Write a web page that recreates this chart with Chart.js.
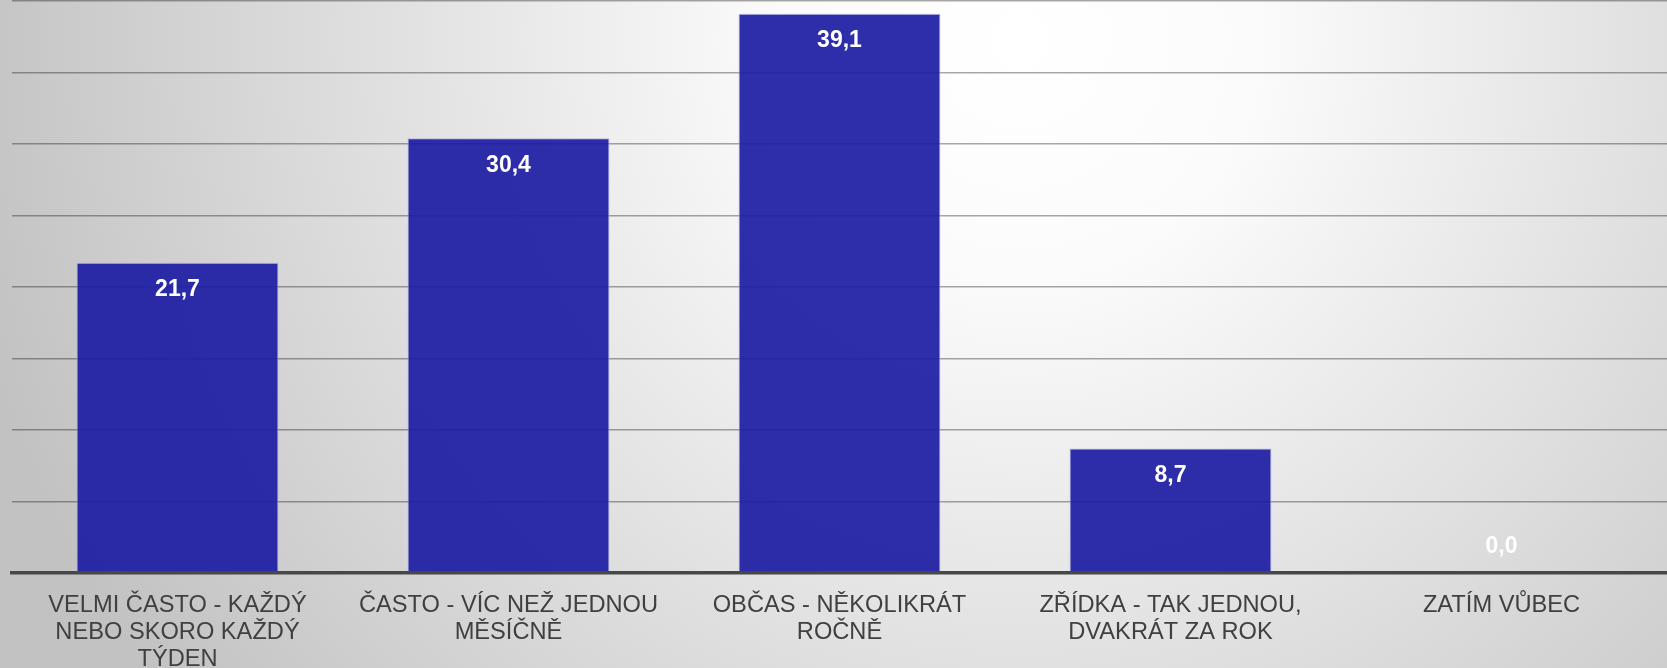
<!DOCTYPE html>
<html>
<head>
<meta charset="utf-8">
<script src="https://cdn.jsdelivr.net/npm/chart.js@4/dist/chart.umd.min.js"></script>
<style>
  html, body { margin: 0; padding: 0; width: 1667px; height: 668px; overflow: hidden; }
  #wrap { width: 1667px; height: 668px; }
</style>
</head>
<body>
<div id="wrap"><canvas id="c" width="1667" height="668"></canvas></div>
<script>
const categories = [
  ["VELMI ČASTO - KAŽDÝ", "NEBO SKORO KAŽDÝ", "TÝDEN"],
  ["ČASTO - VÍC NEŽ JEDNOU", "MĚSÍČNĚ"],
  ["OBČAS - NĚKOLIKRÁT", "ROČNĚ"],
  ["ZŘÍDKA - TAK JEDNOU,", "DVAKRÁT ZA ROK"],
  ["ZATÍM VŮBEC"]
];
const values = [21.7, 30.4, 39.1, 8.7, 0.0];
const yMin = 0, yMax = 40, yStep = 5;

const bgPlugin = {
  id: 'bg',
  beforeDraw(chart) {
    const ctx = chart.ctx;
    const w = chart.width, h = chart.height;
    ctx.save();
    const g = ctx.createRadialGradient(1020, 40, 0, 1020, 40, 1080);
    g.addColorStop(0, '#ffffff');
    g.addColorStop(0.22, '#fbfbfb');
    g.addColorStop(1, '#c2c2c2');
    ctx.fillStyle = g;
    ctx.fillRect(0, 0, w, h);
    ctx.restore();
  }
};

const labelPlugin = {
  id: 'vals',
  afterDraw(chart) {
    const ctx = chart.ctx;
    const meta = chart.getDatasetMeta(0);
    ctx.save();
    ctx.fillStyle = '#ffffff';
    ctx.font = 'bold 23px "Liberation Sans", Arial, sans-serif';
    ctx.textAlign = 'center';
    ctx.textBaseline = 'middle';
    meta.data.forEach((el, i) => {
      const v = chart.data.datasets[0].data[i];
      const y = (el.base - el.y > 54) ? el.y + 27 : el.base - 26;
      ctx.fillText(v.toFixed(1).replace('.', ','), el.x, y);
    });
    ctx.restore();

    const xs = chart.scales.x;
    const top = xs.top;
    ctx.save();
    ctx.fillStyle = '#404040';
    ctx.font = '24px "Liberation Sans", Arial, sans-serif';
    ctx.textAlign = 'center';
    ctx.textBaseline = 'middle';
    const sx = 0.985;
    chart.data.labels.forEach((lines, i) => {
      const cx = xs.getPixelForValue(i);
      lines.forEach((t, j) => {
        ctx.save();
        ctx.translate(cx, top + 32 + j * 27);
        ctx.scale(sx, 1);
        ctx.fillText(t, 0, 0);
        ctx.restore();
      });
    });
    ctx.restore();
  }
};

new Chart(document.getElementById('c'), {
  type: 'bar',
  data: {
    labels: categories,
    datasets: [{
      data: values,
      backgroundColor: 'rgba(28,28,164,0.92)',
      borderColor: 'rgba(175,175,230,0.9)',
      borderWidth: 1,
      barPercentage: 0.61,
      categoryPercentage: 1.0
    }]
  },
  options: {
    responsive: false,
    animation: false,
    layout: { padding: { left: 12, right: 0, top: 1, bottom: 0 } },
    plugins: { legend: { display: false }, tooltip: { enabled: false } },
    scales: {
      x: {
        grid: { display: false, drawTicks: false },
        border: { display: true, color: '#474747', width: 3.5, z: 2 },
        ticks: { display: false },
        afterFit(scale) { scale.height = 95; }
      },
      y: {
        min: yMin, max: yMax,
        ticks: { display: false, stepSize: yStep },
        grid: { color: 'rgba(0,0,0,0.34)', lineWidth: 1.5, drawTicks: false },
        border: { display: false },
        afterFit(scale) { scale.width = 0; }
      }
    }
  },
  plugins: [bgPlugin, labelPlugin]
});
</script>
</body>
</html>
